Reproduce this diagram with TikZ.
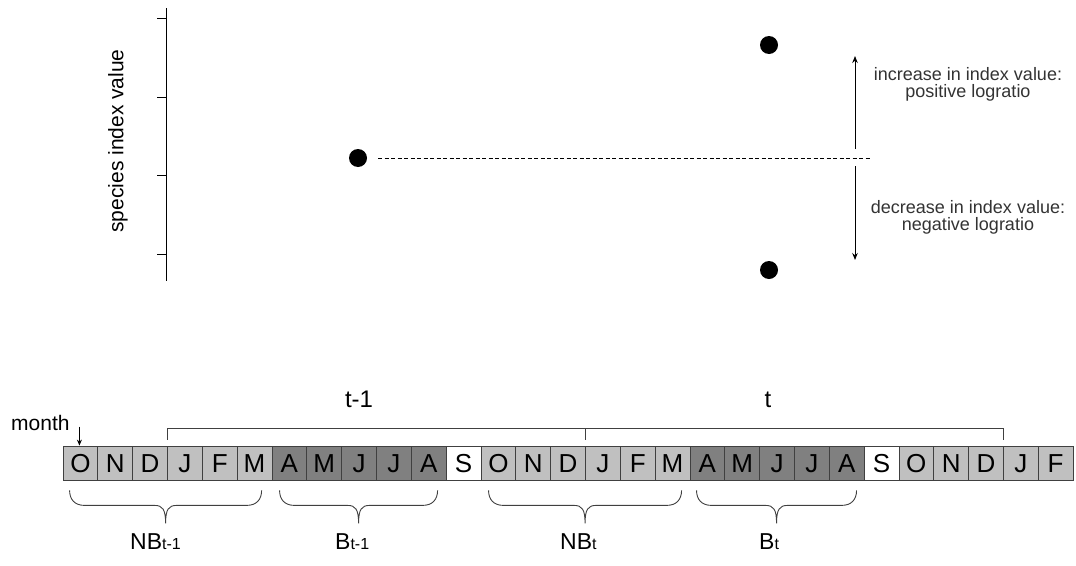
\documentclass[tikz,border=0pt]{standalone}
\usepackage{fontspec}
\setmainfont{Liberation Sans}
\usetikzlibrary{arrows.meta,calc}
\definecolor{nbgray}{HTML}{C0C0C0}
\definecolor{bgray}{HTML}{808080}
\definecolor{boxline}{HTML}{404040}
\definecolor{notetext}{HTML}{333333}
\begin{document}
\begin{tikzpicture}[x=1pt,y=-1pt,
  monthbox/.style={draw=boxline, line width=0.8pt, minimum width=34.83pt,
    minimum height=34pt, inner sep=0pt, font=\fontsize{26}{26}\selectfont,
    text height=18.6pt, text depth=0pt},
  dot/.style={circle, fill=black, minimum size=18pt, inner sep=0pt},
  axisline/.style={line width=0.9pt, black},
  levelline/.style={line width=0.8pt, dash pattern=on 4pt off 2.5pt, shorten <=11pt},
  varrow/.style={line width=1pt, -{Stealth[length=7pt,width=5.5pt]}},
  note/.style={align=center, inner sep=0pt, text=notetext,
    font=\fontsize{18}{17}\selectfont},
  bracket/.style={line width=0.9pt, boxline},
  bracestyle/.style={line width=0.9pt, boxline},
  period/.style={anchor=base, inner sep=0pt, font=\fontsize{24}{24}\selectfont},
  season/.style={anchor=base west, inner sep=0pt, font=\fontsize{23}{23}\selectfont},
  curly/.pic={
    \draw[bracestyle] (0,0) .. controls (0,9) and (5,15) .. (15,15)
      -- ({#1/2-11},15) .. controls ({#1/2-3},15) and ({#1/2},19) .. ({#1/2},33)
      .. controls ({#1/2},19) and ({#1/2+3},15) .. ({#1/2+11},15)
      -- ({#1-15},15) .. controls ({#1-5},15) and (#1,9) .. (#1,0);
  }]
\useasboundingbox (0,0) rectangle (1076,565);
\fill[white] (0,0) rectangle (1076,565);

% value axis with ticks
\draw[axisline] (166,8) -- (166,281);
\foreach \y in {18,97,175,254} \draw[axisline] (157,\y) -- (166,\y);
\node[rotate=90, inner sep=0pt, font=\fontsize{21}{21}\selectfont] (ylab) at (118,141) {species index value};

% index values in consecutive years
\node[dot] (p0) at (358,158) {};
\node[dot] (pup) at (769,45) {};
\node[dot] (pdn) at (769,270) {};
\coordinate (lvl) at (872,158);
\draw[levelline] (p0) -- (lvl);

% change arrows
\coordinate (upfrom) at (855,149);
\coordinate (upto) at (855,56);
\coordinate (dnfrom) at (855,166);
\coordinate (dnto) at (855,260);
\draw[varrow] (upfrom) -- (upto);
\draw[varrow] (dnfrom) -- (dnto);
\node[note] (inc) at (968,84) {increase in index value:\\positive logratio};
\node[note] (dec) at (968,217) {decrease in index value:\\negative logratio};

% month strip
\foreach \l/\c [count=\i] in {O/nbgray,N/nbgray,D/nbgray,J/nbgray,F/nbgray,M/nbgray,
    A/bgray,M/bgray,J/bgray,J/bgray,A/bgray,S/white,
    O/nbgray,N/nbgray,D/nbgray,J/nbgray,F/nbgray,M/nbgray,
    A/bgray,M/bgray,J/bgray,J/bgray,A/bgray,S/white,
    O/nbgray,N/nbgray,D/nbgray,J/nbgray,F/nbgray}
  \node[monthbox, fill=\c] (m\i) at ({63+(\i-0.5)*34.83},463) {\l};

\node[anchor=base west, inner sep=0pt, font=\fontsize{21}{21}\selectfont] (mlab) at (11,430) {month};
\coordinate (mfrom) at ($(m1.north)+(-1,-19)$);
\coordinate (mto) at ($(m1.north)+(-1,0)$);
\draw[line width=1pt, -{Stealth[length=6pt,width=5pt]}] (mfrom) -- (mto);

% year brackets
\coordinate (yl) at ($(m4.north west)+(0,-6)$);
\coordinate (ym) at ($(m16.north west)+(0,-6)$);
\coordinate (yr) at ($(m28.north west)+(0,-6)$);
\draw[bracket] (yl) -- ++(0,-11) -| (yr);
\draw[bracket] (ym) -- ++(0,-11);
\node[period] (tprev) at (359,407) {t-1};
\node[period] (tcur) at (768,407) {t};

% seasons
\pic at ($(m1.south west)+(7,10)$) {curly=192};
\pic at ($(m7.south west)+(8,10)$) {curly=158};
\pic at ($(m13.south west)+(8,10)$) {curly=193};
\pic at ($(m19.south west)+(7,10)$) {curly=160};
\node[season] (nbprev) at (130,549) {NB{\fontsize{16}{16}\selectfont t-1}};
\node[season] (bprev) at (335,549) {B{\fontsize{16}{16}\selectfont t-1}};
\node[season] (nbcur) at (560,549) {NB{\fontsize{16}{16}\selectfont t}};
\node[season] (bcur) at (759,549) {B{\fontsize{16}{16}\selectfont t}};
\end{tikzpicture}
\end{document}
